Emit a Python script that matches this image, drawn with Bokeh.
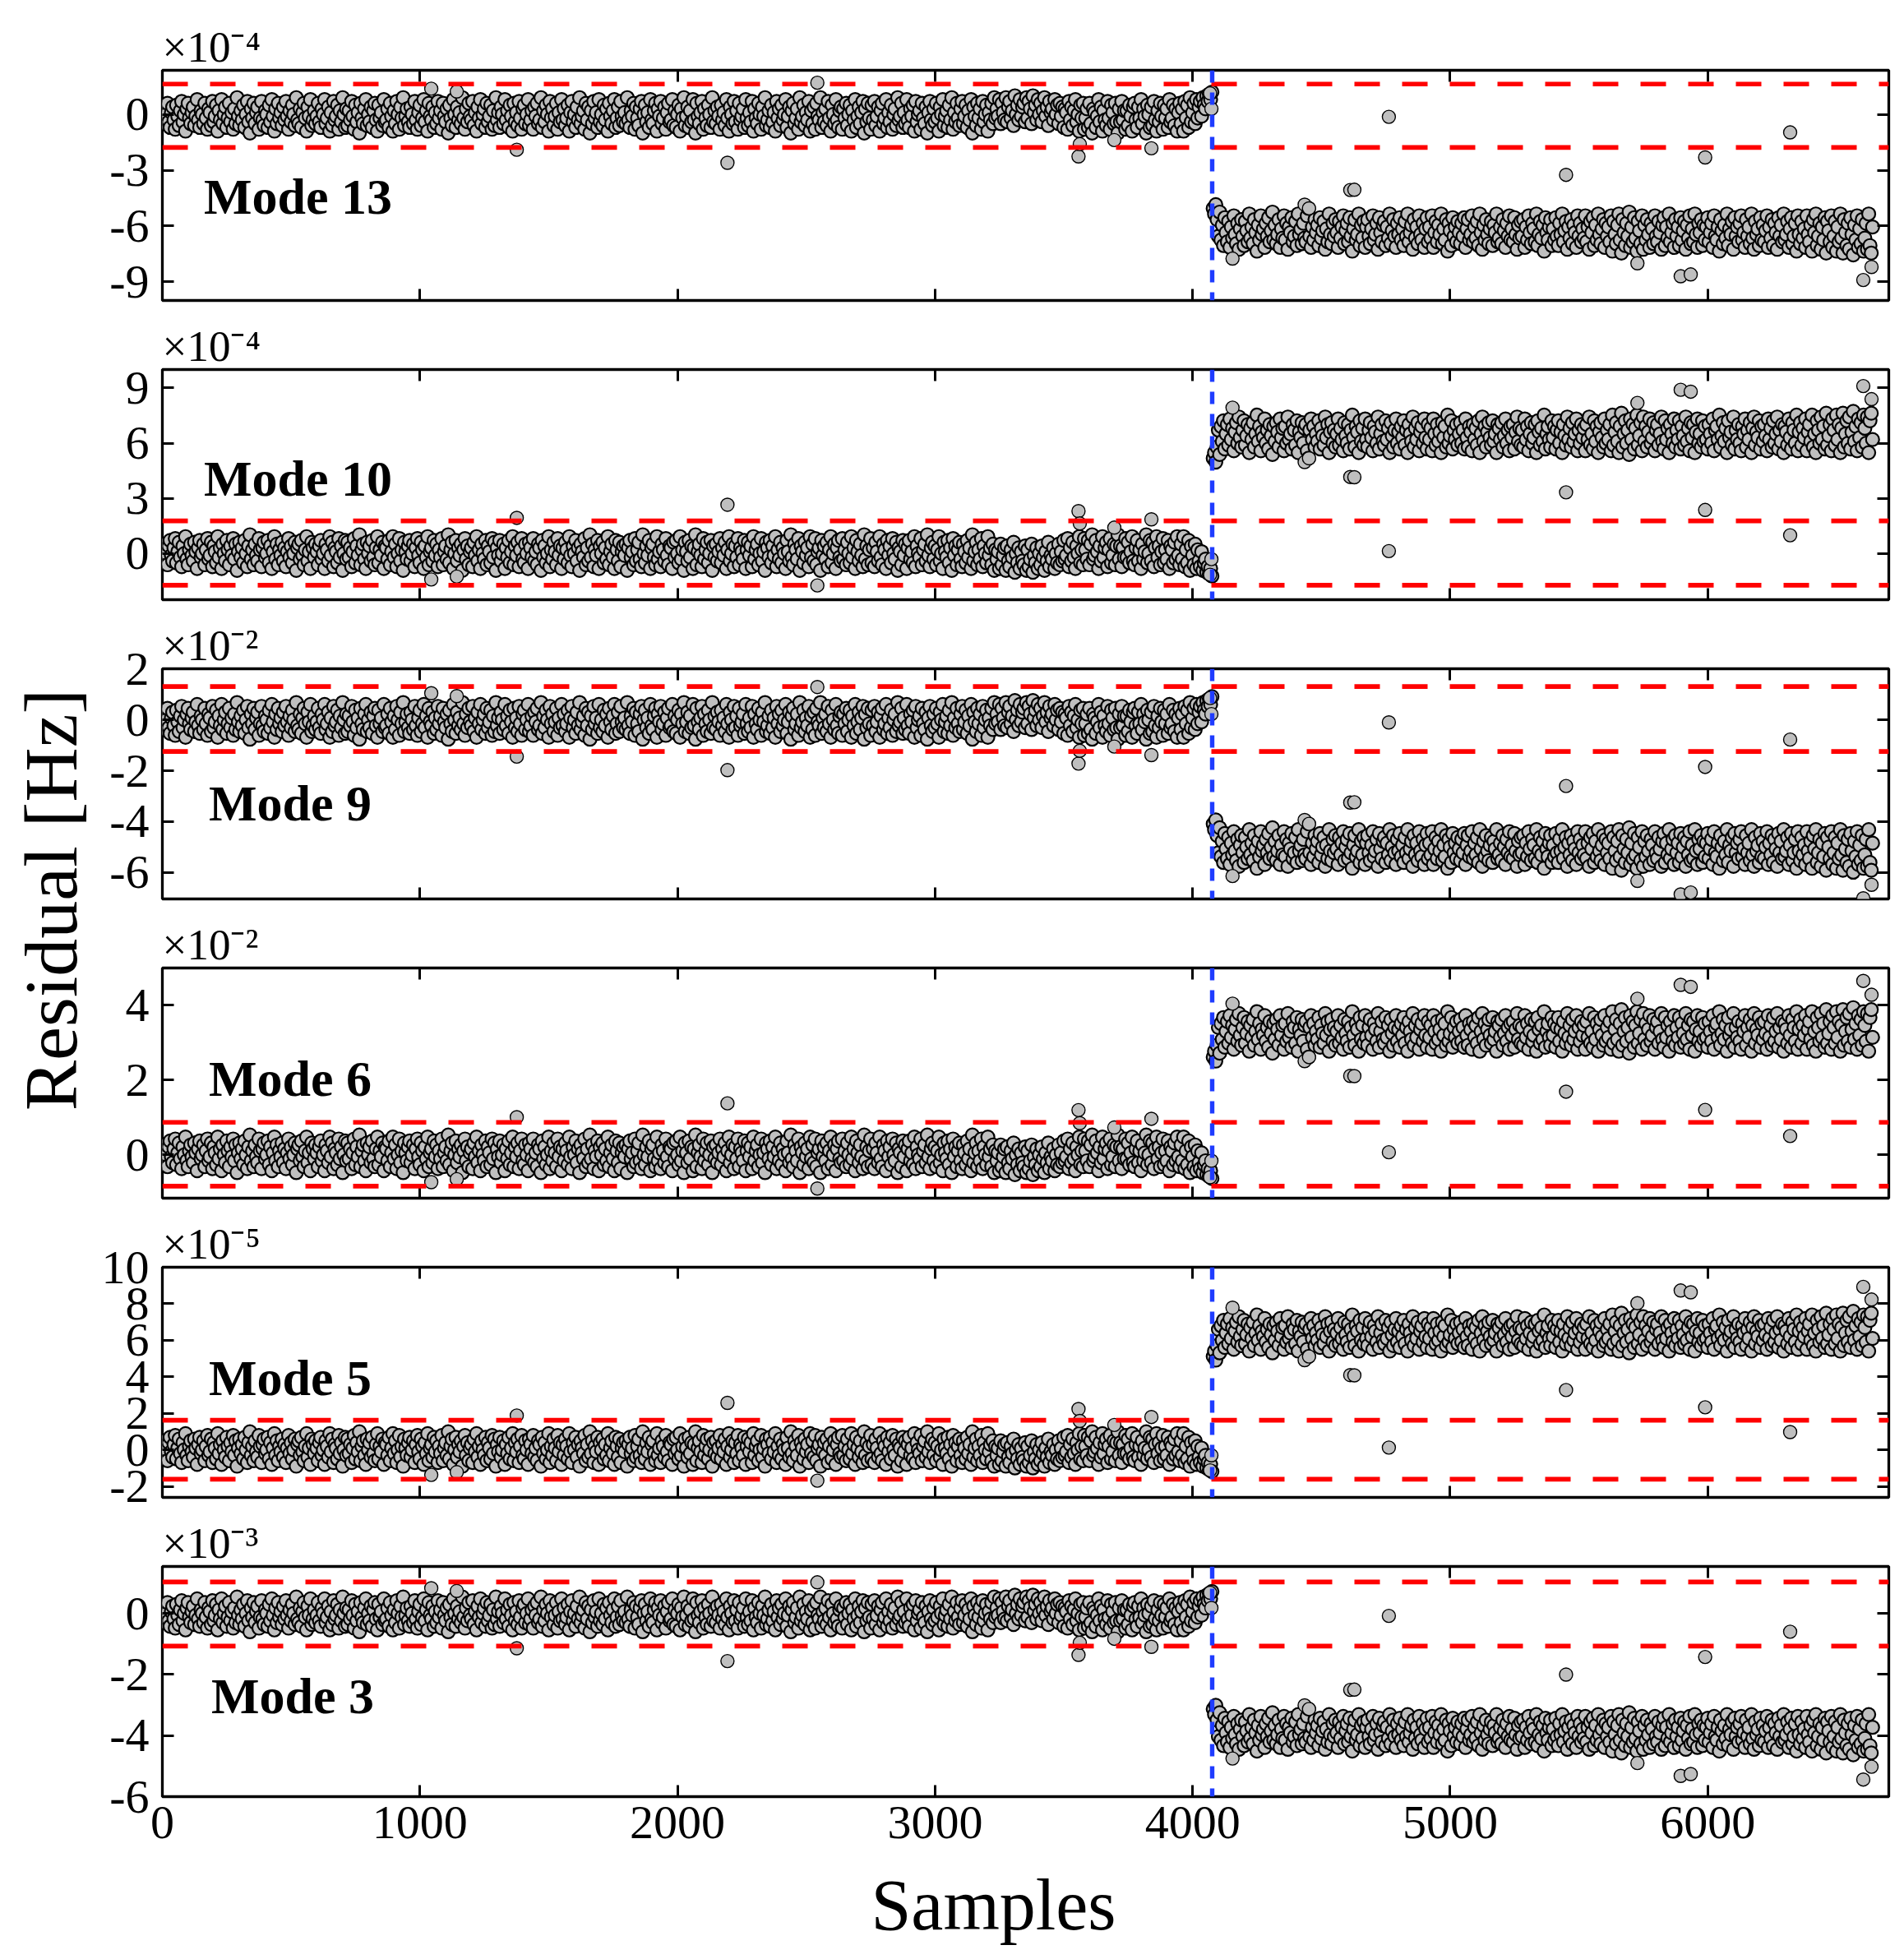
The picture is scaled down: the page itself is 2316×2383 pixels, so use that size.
import numpy as np
from bokeh.plotting import figure
from bokeh.models import Range1d, FixedTicker, LinearAxis, Span, Label, CustomJSTickFormatter
from bokeh.layouts import row, column
from bokeh.embed import file_html
from bokeh.resources import INLINE

FONT = "Liberation Serif"

# ---------------- data ----------------
sample_step = 5           # one plotted residual every 5 samples
pre_start = 0
post_start = 4080
change_sample = 4076      # blue dashed line
x_end = 6703

# residual pattern, tenths of a Mode-13 unit (+ = direction of the later shift)
pre_noise_tenths = [
    2, -3, 5, 0, -6, 4, 7, -1, -4, 3, 8, -5, 1, 6, -2, -7, 4, 0, 9, -3, -6, 2, 5, -1,
    -4, 6, 1, -8, 3, 7, -2, 0, 5, -6, 2, 8, -3, -1, 6, -7, 4, 1, -5, 9, -2, 3, -8, 5,
    0, -4, 7, 2, -6, 4, -1, 8, -3, 5, -9, 1, 6, -2, 3, -5, 7, 0, -7, 4, 10, -3, 2, -6,
    5, -1, -4, 8, 2, -7, 3, 6, -2, 0, 7, -5, 4, -8, 1, 9, -3, 5, -6, 2, -1, 6, -4, 3,
    -7, 1, 8, -2, 4, -5, 0, 6, -9, 3, 5, -3, 7, -1, -6, 2, 9, -4, 1, -8, 6, 3, -2, 5,
    1, -6, 4, 7, -3, 0, -8, 5, 2, -4, 9, -1, 6, -7, 3, 1, -5, 8, -2, 4, -9, 0, 7, -3,
    6, -2, 3, -7, 1, 8, -5, 4, -1, 10, -6, 2, 5, -3, -8, 6, 0, 4, -4, 7, -2, -6, 3, 9,
    -5, 2, -1, 6, -8, 4, 3, -3, 7, -6, 1, 9, -2, 5, -7, 0, 8, -4, 2, -9, 6, 1, -3, 4,
    7, -4, 0, 5, -7, 3, 8, -1, -5, 6, 2, -8, 4, -2, 9, -6, 1, 3, -4, 7, -1, 5, -7, 2,
    -2, 8, -6, 1, 4, -3, 10, -5, 2, 6, -8, 0, 7, -4, 3, -1, 5, -9, 2, 8, -3, 4, -6, 1,
    3, -7, 6, -1, 9, -4, 2, -8, 5, 0, -3, 7, -6, 4, 1, -5, 8, -2, 6, -9, 3, -1, 7, -4,
    0, 5, -8, 3, -2, 7, -5, 1, 9, -6, 4, -1, 6, -7, 2, 8, -3, -5, 5, 0, -8, 6, 3, -2,
    8, -4, 1, -6, 5, 3, -9, 7, -2, 4, -5, 0, 9, -7, 2, -3, 6, 1, -6, 8, -1, 4, -8, 3,
    -3, 6, 2, -5, 9, -1, -7, 4, 0, 7, -4, 3, -9, 5, 1, -2, 8, -6, 3, -4, 10, -2, 5, -7,
    2, -1, 7, -8, 4, 0, 6, -5, 3, -3, 9, -6, 1, 5, -2, -8, 7, 2, -4, 6, -7, 1, 4, -1,
    5, -9, 3, 7, -2, 1, -6, 8, -4, 2, 6, -3, -7, 10, 0, -5, 4, -1, 7, -8, 3, 5, -2, -6,
    9, -3, 1, -7, 5, 2, -4, 8, -1, -6, 4, 3, -8, 6, -2, 7, 0, -5, 9, -3, 2, -9, 6, 1,
    -4, 7, -2, 4, -8, 3, 10, -6, 1, 5, -1, -7, 8, -3, 2, 6, -5, 0, 7, -9, 4, -2, 5, -4,
    1, 8, -5, 3, -1, 6, -8, 2, 9, -4, 0, 5, -7, 4, -2, 8, -6, 3, 1, -3, 7, -8, 2, 6,
    -1, 4, -7, 9, -3, 2, 5, -6, 0, 8, -4, 1, -9, 6, 3, -2, 7, -5, 4, -1, 9, -7, 2, -3,
    6, -5, 3, 0, -8, 7, 1, -4, 10, -2, -6, 5, 2, -3, 8, -9, 4, 1, -5, 6, -1, 3, -7, 9,
    -2, 5, -4, 8, -6, 1, 3, -9, 7, -1, 4, -3, 6, -7, 2, 9, -5, 0, 5, -8, 3, 7, -2, -4,
    8, -3, 2, -6, 6, 0, -5, 9, -2, 3, -8, 7, 1, -4, 5, -1, -7, 10, -3, 4, -6, 2, 8, -5,
    3, -7, 6, 1, -4, 9, -2, -6, 5, 2, -8, 7, -1, 4, -5, 8, 0, -3, 6, -9, 3, 1, -6, 7,
    -1, 5, -8, 3, 7, -3, 1, -5, 9, -7, 4, 0, -2, 8, -6, 2, 5, -4, 10, -1, -7, 3, 6, -3,
    4, -6, 2, 9, -4, 0, -8, 6, 1, -2, 7, -5, 3, -9, 8, -1, 4, -6, 2, 6, -3, -7, 5, 1,
    -5, 7, -2, 3, -8, 10, -4, 1, 6, -6, 2, -3, 8, -7, 4, 0, -5, 9, -1, 3, -6, 5, -9, 2,
    -3, 1, -8, 5, -6, -1, 3, -9, 4, -4, -7, 2, -2, 6, -10, 0, -5, 3, -8, 1, -4, -6, 4, -9,
    2, -7, -3, 5, -10, -1, -5, 3, -8, 0, -6, 4, -2, -9, 1, -4, 6, -7, -1, -3, 3, -8, 0, -5,
    5, -6, 1, -4, 7, -3, -1, 8, -7, 3, -4, 6, -2, -8, 4, 0, 9, -5, 2, -6, 8, 2, -3, 7,
    -6, 5, 10, -3, -1, 7, 1, -8, 4, -4, 9, -2, 3, 6, -7, 2, 8, -5, -1, 5, -6, 4, 10, -3,
    4, -7, 3, -2, 8, -2, 6, -5, 1, 9, -4, -6, 3, 7, -4, 2, -8, 5, -3, 1, 10, -5, 0, 7,
    -4, 6, -7, 3, 9, -2, 4, -6, 1, 8, -5, 2, -3, 7, -8, 4, 2, -5, 6, -3, 9, -1, -6, 5,
    -3, 9, -7, 2, -5, 7, -9, 4, -1, -6, 5, -8, 2, -4, -7, 1, -9, -5, -3, -10, -7, -11, -8, -12,
]
post_noise_tenths = [
    -12, -9, -14, -6, 3, -10, 5, -3, 8, -7, 1, 6, -5, 9, -2, 4, -8, 2, 7, -4, 10, -1, -6, 3,
    8, -5, 0, 6, -9, 4, -2, 7, -6, 1, 11, -3, 5, -8, 2, -1, 9, -4, 3, -7, 6, 0, -10, 5,
    -3, 7, 2, -6, 9, -1, 4, -8, 5, -4, 10, -2, 1, -7, 6, 3, -5, 8, -9, 2, -1, 7, -4, 4,
    6, -8, -12, 3, 9, -2, 5, -6, 1, -3, 8, -7, 4, 0, -5, 10, -1, 6, -9, 2, 7, -4, 3, -6,
    1, 9, -5, 4, -2, -8, 7, 0, -4, 6, -7, 3, 11, -1, -6, 5, 2, -9, 8, -3, 4, -5, 9, -2,
    -6, 3, 7, -1, -8, 5, 2, -4, 10, -7, 1, 6, -3, -5, 8, -2, 4, -9, 7, 0, -6, 3, 9, -4,
    2, -7, 5, -1, 8, -5, 3, -9, 6, 1, -3, 10, -6, 4, -2, 7, -8, 2, 5, -4, 9, -1, -7, 6,
    -2, 4, -8, 9, 1, -5, 6, -3, 2, -9, 7, -1, 5, -6, 11, -4, 0, 8, -7, 3, -2, 6, -5, 1,
    7, -4, 3, -7, 9, -1, -6, 5, 2, -8, 6, -2, 4, -5, 8, -9, 1, 10, -3, 5, -6, 2, 7, -1,
    -5, 8, -3, 1, -9, 6, 4, -2, 7, -6, 0, 9, -4, 3, -8, 5, -1, 6, -7, 2, 10, -3, 4, -5,
    3, -6, 9, -2, 5, -8, 1, 7, -4, -1, 6, -9, 8, 2, -5, 4, -3, 11, -7, 1, 5, -2, -6, 8,
    -1, 5, -7, 3, 8, -4, 2, -9, 6, 0, -5, 10, -2, 4, -6, 7, -3, 1, 9, -8, 3, -4, 6, -1,
    4, -8, 6, -2, 10, -5, 1, -7, 8, -3, 5, -9, 2, 7, -1, -6, 9, -4, 3, -2, 6, -8, 11, -5,
    2, 7, -3, -9, 5, 12, -6, 1, 8, -4, 3, -10, 9, -2, 6, -7, 4, 11, -5, 0, 7, -8, 10, -3,
    5, -6, 2, 9, -4, -1, 7, -8, 3, 6, -5, 1, 10, -3, -7, 8, -2, 4, -9, 6, 1, -4, 9, -6,
    3, -2, 8, -7, 5, 0, -5, 10, -3, 4, -8, 7, -1, 6, -9, 2, 9, -4, 1, -6, 8, -3, 5, -2,
    -7, 6, 1, -4, 9, -8, 3, 5, -2, 11, -6, 0, 7, -3, 4, -9, 8, -1, 2, -5, 10, -7, 3, -2,
    6, -4, -8, 5, 1, 9, -6, 3, -2, 7, -9, 4, 10, -5, 2, -1, 8, -7, 5, -3, 6, 0, -8, 9,
    -2, 4, -6, 8, -4, 1, 10, -7, 3, -3, 6, -9, 5, 2, -5, 9, -1, -7, 7, 3, -4, 11, -8, 2,
    7, -5, 4, -1, 9, -8, 2, 6, -3, 11, -6, 1, -9, 8, 3, -4, 10, -2, 5, -7, 12, -5, 0, 6,
    -8, 9, 3, -5, 11, -2, 6, -9, 4, 12, -6, 1, 8, -4, 10, -7, 2, 13, -3, 5, -8, 9, -1, 7,
    -6, 11, 4, -4, 10, -9, 8, 12, -2,
]

# isolated points (sample, normalised residual, fraction of the shift)
out_x = [1044, 1143, 1376, 2194, 2543, 3557, 3562, 3696, 3840, 4068, 4073,
         4155, 4435, 4452, 4612, 4628, 4762, 5450, 5727, 5895, 5934, 5990,
         6320, 6604, 6636]
out_n = [-1.38, -1.23, 1.9, 2.6, -1.7, 2.26, 1.6, 1.38, 1.82, -1.13, -0.3,
         1.5, -1.4, -1.2, 0.0, 0.05, 0.13, 0.0, 1.75, 2.45, 2.35, 0.0,
         0.0, 2.65, 1.95]
out_level = [0, 0, 0, 0, 0, 0, 0, 0, 0, 0, 0,
             1, 1, 1, 0.65, 0.64, 0, 0.52, 1, 1, 1, 0.37,
             0.155, 1, 1]

modes = ["Mode 13", "Mode 10", "Mode 9", "Mode 6", "Mode 5", "Mode 3"]
signs = [-1, 1, -1, 1, 1, -1]
noise_scale = [1.0, 1.02, 0.76, 0.53, 0.99, 0.6]
shift = [6.25, 6.4, 5.0, 3.25, 6.3, 3.85]
thr_upper = [1.63, 1.77, 1.31, 0.87, 1.62, 1.03]
thr_lower = [-1.78, -1.72, -1.24, -0.84, -1.60, -1.07]
multipliers = ["\u00d710\u207b\u2074", "\u00d710\u207b\u2074", "\u00d710\u207b\u00b2",
               "\u00d710\u207b\u00b2", "\u00d710\u207b\u2075", "\u00d710\u207b\u00b3"]
y_lo = [-10.0, -2.51, -7.04, -1.16, -2.6, -6.0]
y_hi = [2.37, 10.0, 2.01, 5.0, 10.0, 1.54]
y_ticks = [[-9, -6, -3, 0], [0, 3, 6, 9], [-6, -4, -2, 0, 2], [0, 2, 4],
           [-2, 0, 2, 4, 6, 8, 10], [-6, -4, -2, 0]]
label_x = [161, 161, 180, 180, 180, 190]
label_y = [-4.41, 4.06, -3.27, 2.04, 3.96, -2.71]
x_ticks = [0, 1000, 2000, 3000, 4000, 5000, 6000]
x_title = "Samples"
y_title = "Residual [Hz]"
x_title_at = 3227

# ---------------- layout ----------------
FW, FH = 2100, 280
LEFT, RIGHT = 78, 12
TOP1, TOP, BOT, BOT_LAST = 85, 64, 20, 76
STRIP_H = 118
LAB_W = 119

EMPTY = CustomJSTickFormatter(code="return ''")


def style_axis(ax, labelled):
    ax.axis_line_color = None
    ax.major_tick_in = 14
    ax.major_tick_out = 0
    ax.major_tick_line_width = 3
    ax.major_tick_line_color = "black"
    ax.minor_tick_line_color = None
    if labelled:
        ax.major_label_text_font = FONT
        ax.major_label_text_font_size = "58px"
        ax.major_label_text_color = "black"
    else:
        ax.formatter = EMPTY
        ax.major_label_text_font_size = "1px"
        ax.major_label_standoff = 0


figs = []
pre_x = np.arange(len(pre_noise_tenths)) * sample_step + pre_start
post_x = np.arange(len(post_noise_tenths)) * sample_step + post_start
pre_n = np.array(pre_noise_tenths) / 10.0
post_n = np.array(post_noise_tenths) / 10.0

for i in range(6):
    last = i == 5
    p = figure(frame_width=FW, frame_height=FH,
               x_range=Range1d(0, x_end), y_range=Range1d(y_lo[i], y_hi[i]),
               output_backend="svg", toolbar_location=None,
               min_border_left=LEFT, min_border_right=RIGHT,
               min_border_top=TOP1 if i == 0 else TOP,
               min_border_bottom=BOT_LAST if last else BOT,
               title=multipliers[i])
    p.title.align = "left"
    p.title.text_font = FONT
    p.title.text_font_size = "53px"
    p.title.text_font_style = "normal"
    p.title.text_color = "black"
    p.title.standoff = 0
    p.title.offset = 0
    p.grid.visible = False
    p.outline_line_color = "black"
    p.outline_line_width = 3.3
    p.background_fill_color = "white"
    p.border_fill_color = "white"

    s, k, sh = signs[i], noise_scale[i], shift[i]
    y_pre = s * k * pre_n
    y_post = s * (k * post_n + sh)
    y_out = s * (k * np.array(out_n) + sh * np.array(out_level))
    p.scatter(np.concatenate([pre_x, post_x]), np.concatenate([y_pre, y_post]),
              size=16, fill_color="#bfbfbf", line_color="black", line_width=2.2)
    p.scatter(out_x, y_out, size=16, fill_color="#bfbfbf", line_color="black",
              line_width=1.4)

    for t in (thr_upper[i], thr_lower[i]):
        p.add_layout(Span(location=t, dimension="width", line_color="#ff0000",
                          line_width=5.7, line_dash="31 27"))
    p.add_layout(Span(location=change_sample, dimension="height",
                      line_color="#1f3cff", line_width=5.4, line_dash="15 12"))

    p.yaxis.ticker = FixedTicker(ticks=y_ticks[i])
    p.yaxis.major_label_overrides = {t: str(t) for t in y_ticks[i]}
    p.yaxis.major_label_standoff = 16
    style_axis(p.yaxis[0], True)
    p.xaxis.ticker = FixedTicker(ticks=x_ticks)
    if last:
        style_axis(p.xaxis[0], True)
        p.xaxis.major_label_standoff = 12
    else:
        style_axis(p.xaxis[0], False)
    ra = LinearAxis(ticker=FixedTicker(ticks=y_ticks[i]))
    style_axis(ra, False)
    p.add_layout(ra, "right")
    ta = LinearAxis(ticker=FixedTicker(ticks=x_ticks))
    style_axis(ta, False)
    p.add_layout(ta, "above")

    p.add_layout(Label(x=label_x[i], y=label_y[i], text=modes[i],
                       text_font=FONT, text_font_size="62px",
                       text_font_style="bold", text_baseline="middle",
                       text_align="left", text_color="black"))
    figs.append(p)

# strip holding the x-axis title
strip = figure(frame_width=FW, frame_height=STRIP_H, x_range=Range1d(0, x_end),
               y_range=Range1d(0, STRIP_H), output_backend="svg",
               toolbar_location=None, min_border_left=LEFT,
               min_border_right=RIGHT, min_border_top=0, min_border_bottom=0,
               x_axis_location=None, y_axis_location=None)
strip.outline_line_color = None
strip.grid.visible = False
strip.add_layout(Label(x=x_title_at, y=62, text=x_title, text_font=FONT,
                       text_font_size="88px", text_align="center",
                       text_baseline="middle", text_color="black"))

total_h = (TOP1 + FH + BOT) + 4 * (TOP + FH + BOT) + (TOP + FH + BOT_LAST) + STRIP_H
lab = figure(width=LAB_W, height=total_h, x_range=Range1d(0, LAB_W),
             y_range=Range1d(0, total_h), output_backend="svg",
             toolbar_location=None, min_border=0,
             x_axis_location=None, y_axis_location=None)
lab.outline_line_color = None
lab.grid.visible = False
lab.add_layout(Label(x=61, y=total_h - 1094, text=y_title,
                     angle=np.pi / 2, text_align="center",
                     text_baseline="middle", text_font=FONT,
                     text_font_size="92px", text_color="black"))

layout = row(lab, column(*figs, strip, spacing=0), spacing=0)
open("out.html", "w").write(file_html(layout, INLINE))
